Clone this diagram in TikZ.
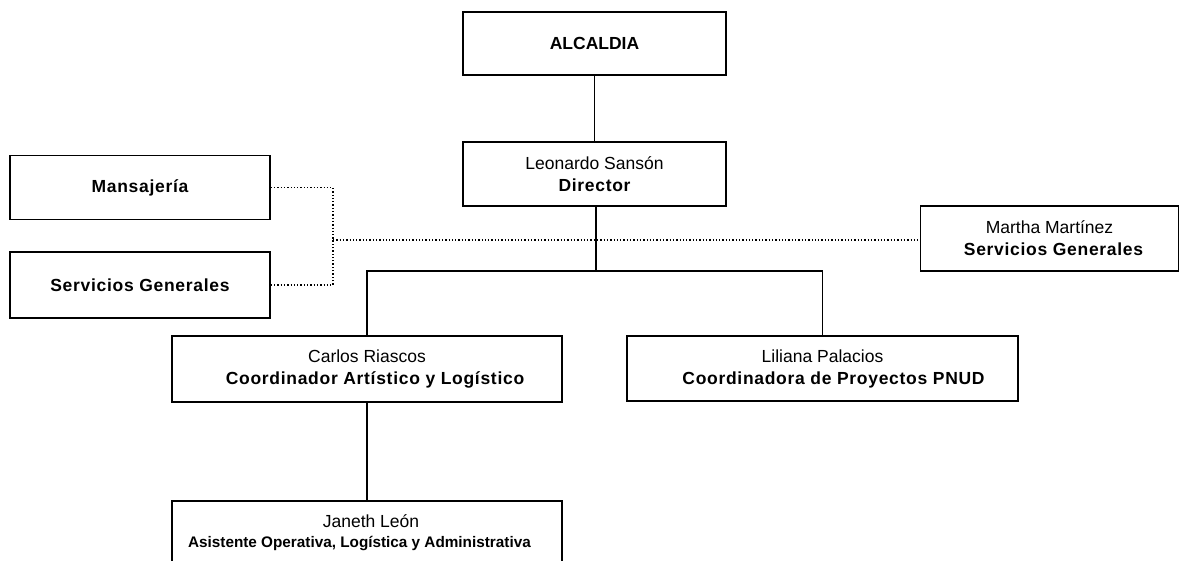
\documentclass[tikz,border=0pt]{standalone}
\usepackage{fontspec}
\setmainfont{Liberation Sans}
\newcommand{\rolename}[1]{{\bfseries\addfontfeature{LetterSpace=4}#1}}
\begin{document}
\begin{tikzpicture}[
        x=1pt, y=-1pt,
        every node/.style={
            draw,
            line width=1.5pt,
            align=center,
            inner sep=0pt,
            font=\fontsize{17.5}{22}\selectfont
        },
        orgline/.style={line width=1.5pt},
        staffline/.style={line width=1.3pt, dotted}
    ]

        \useasboundingbox (0,0) rectangle (1180,560);

        \node[minimum width=263pt, minimum height=63pt] (alcaldia) at (594.5,43.5)
        {\textbf{ALCALDIA}};

        \node[minimum width=263pt, minimum height=64pt] (director) at (594.5,174)
        {Leonardo Sansón\\\rolename{Director}};

        \node[minimum width=260pt, minimum height=64pt] (mensajeria) at (140,187.5)
        {\rolename{Mansajería}};

        \node[minimum width=260pt, minimum height=66pt] (servicios) at (140,285)
        {\rolename{Servicios Generales}};

        \node[minimum width=258pt, minimum height=65pt] (martha) at (1049.5,238.5)
        {Martha Martínez\\\hspace*{8pt}\rolename{Servicios Generales}};

        \node[minimum width=390pt, minimum height=66pt] (carlos) at (367,369)
        {Carlos Riascos\\\hspace*{16pt}\rolename{Coordinador Artístico y Logístico}};

        \node[minimum width=391pt, minimum height=65pt] (liliana) at (822.5,368.5)
        {Liliana Palacios\\\hspace*{22pt}\rolename{Coordinadora de Proyectos PNUD}};

        \node[minimum width=390pt, minimum height=64pt] (janeth) at (367,533)
        {\hspace*{8pt}Janeth León\\[-2pt]
         {\fontsize{15.3}{18}\selectfont\textbf{Asistente Operativa, Logística y Administrativa}}\hspace*{15pt}};

        \coordinate (split) at (596,271);
        \coordinate (hub) at (333,240);

        \draw[orgline] (alcaldia) -- (director);
        \draw[orgline] (director.south -| split) -- (split);
        \draw[orgline] (carlos.north) |- (split) -| (liliana.north);
        \draw[orgline] (carlos) -- (janeth);

        \draw[staffline] (mensajeria.east) -| (hub);
        \draw[staffline] (servicios.east) -| (hub);
        \draw[staffline] (hub) -- (hub -| martha.west);

    \end{tikzpicture}
\end{document}
